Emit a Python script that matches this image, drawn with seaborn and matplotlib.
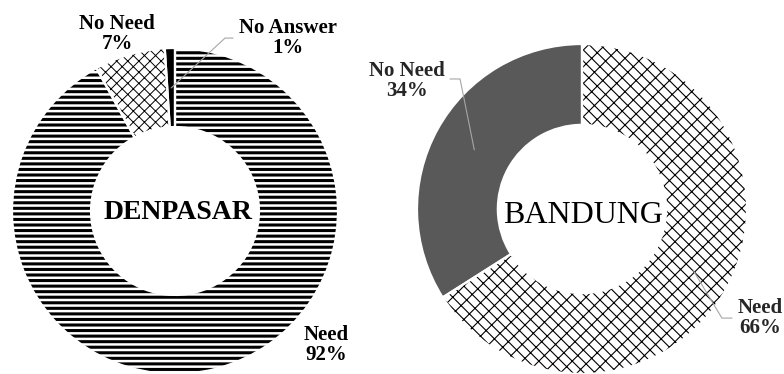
import numpy as np
import matplotlib
matplotlib.use("Agg")
import matplotlib.pyplot as plt
import seaborn as sns

# Survey answers per city (percent)
denpasar_labels = ["Need", "No Need", "No Answer"]
denpasar_values = [92, 7, 1]
bandung_labels = ["Need", "No Need"]
bandung_values = [66, 34]

sns.set_theme(style="white")
plt.rcParams["font.family"] = ["Liberation Serif", "DejaVu Serif"]

W, H = 784, 374
fig = plt.figure(figsize=(W / 100, H / 100), dpi=100)
fig.patch.set_facecolor("white")


def donut_axes(cx, cy, r):
    """Square axes whose unit circle spans r pixels around (cx, cy) measured from top-left."""
    ax = fig.add_axes([(cx - r) / W, (H - cy - r) / H, 2 * r / W, 2 * r / H])
    ax.axis("off")
    return ax


def draw_ring(ax, values, styles, width):
    wedges, _ = ax.pie(values, startangle=90, counterclock=False, radius=1,
                       wedgeprops=dict(width=width, linewidth=0, edgecolor="black"))
    for w, (fc, hatch, hlw) in zip(wedges, styles):
        w.set_facecolor(fc)
        if hatch:
            w.set_hatch(hatch)
            if hasattr(w, "set_hatch_linewidth"):
                w.set_hatch_linewidth(hlw)
    # white separators between slices
    ax.pie(values, startangle=90, counterclock=False, radius=1,
           wedgeprops=dict(width=width, linewidth=1.6, edgecolor="white", fill=False))
    ax.set_xlim(-1, 1)
    ax.set_ylim(-1, 1)
    ax.set_aspect("equal")
    return wedges


def leader(ax, wedge, r, pts, color="#a6a6a6"):
    ang = np.deg2rad((wedge.theta1 + wedge.theta2) / 2)
    xs = [p[0] for p in pts] + [r * np.cos(ang)]
    ys = [p[1] for p in pts] + [r * np.sin(ang)]
    ax.plot(xs, ys, color=color, lw=0.8, clip_on=False, zorder=5)


label_kw = dict(ha="center", va="center", fontsize=15, fontweight="bold",
                linespacing=1.05, clip_on=False, zorder=6)

# --- Denpasar ---
ax1 = donut_axes(175, 211, 163)
w1 = draw_ring(ax1, denpasar_values,
               [("white", "---", 2.2), ("white", "xxx", 0.7), ("black", None, 0)],
               width=0.485)
ax1.text(0.02, -0.01, "DENPASAR", ha="center", va="center", fontsize=20,
         fontweight="bold", color="black", zorder=6)
pos1 = {"Need": (0.926, -0.822), "No Need": (-0.356, 1.086), "No Answer": (0.693, 1.061)}
for lab, val in zip(denpasar_labels, denpasar_values):
    x, y = pos1[lab]
    ax1.text(x, y, f"{lab}\n{val}%", color="black", **label_kw)
leader(ax1, w1[2], 0.755, [(0.356, 1.061), (0.307, 1.061)])

# --- Bandung ---
ax2 = donut_axes(582, 209, 165)
w2 = draw_ring(ax2, bandung_values,
               [("white", "\\\\\\//", 0.8), ("#595959", None, 0)],
               width=0.49)
ax2.text(0.005, -0.04, "BANDUNG", ha="center", va="center", fontsize=23,
         color="black", zorder=6)
pos2 = {"Need": (1.079, -0.661), "No Need": (-1.061, 0.776)}
for lab, val in zip(bandung_labels, bandung_values):
    x, y = pos2[lab]
    ax2.text(x, y, f"{lab}\n{val}%", color="#262626", **label_kw)
leader(ax2, w2[1], 0.745, [(-0.80, 0.788), (-0.739, 0.788)])
leader(ax2, w2[0], 0.768, [(0.909, -0.661), (0.848, -0.661)])

fig.savefig("out.png", dpi=100, facecolor="white")
